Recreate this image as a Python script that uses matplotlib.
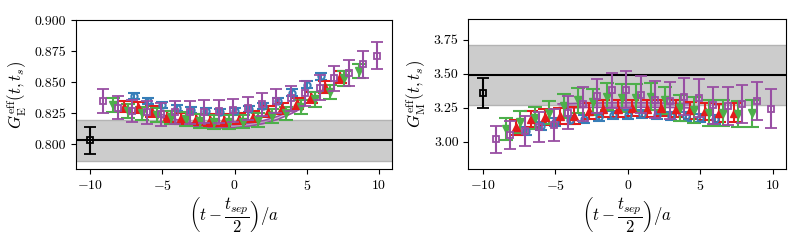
import numpy as np
import matplotlib.pyplot as plt

plt.rcParams['font.family'] = 'serif'
plt.rcParams['font.serif'] = ['cmr10']
plt.rcParams['mathtext.fontset'] = 'cm'
plt.rcParams['axes.formatter.use_mathtext'] = True
plt.rcParams['font.size'] = 10

# x positions (t - tsep/2, shifted for visibility)
x_blue = np.arange(14) - 7.0
x_red = np.arange(16) - 8.0 + 0.3
x_green = np.arange(18) - 9.0 + 0.6
x_purple = np.arange(20) - 10.0 + 0.9

# G_E effective
blue_E = [0.8387, 0.8349, 0.8315, 0.829, 0.8277, 0.8267, 0.8262, 0.8266, 0.8285, 0.831, 0.835, 0.8415, 0.848, 0.8548]
blue_E_err = [0.0025, 0.0025, 0.0025, 0.0025, 0.0025, 0.0025, 0.0025, 0.0025, 0.0025, 0.0025, 0.0025, 0.0026, 0.0027, 0.0028]
red_E = [0.8301, 0.8296, 0.826, 0.8226, 0.8207, 0.8199, 0.8194, 0.8194, 0.8205, 0.822, 0.826, 0.8288, 0.8328, 0.8376, 0.8462, 0.8543]
red_E_err = [0.0045, 0.0045, 0.0045, 0.0045, 0.0045, 0.0045, 0.0045, 0.0045, 0.0045, 0.0045, 0.0045, 0.0045, 0.0045, 0.0045, 0.0046, 0.0047]
green_E = [0.8315, 0.8269, 0.8247, 0.8234, 0.8215, 0.8202, 0.8188, 0.818, 0.818, 0.8182, 0.8194, 0.8226, 0.8247, 0.8301, 0.836, 0.8422, 0.853, 0.8589]
green_E_err = [0.0055, 0.0055, 0.0055, 0.0055, 0.0055, 0.0055, 0.0055, 0.0055, 0.0055, 0.0055, 0.0055, 0.0055, 0.0055, 0.0056, 0.0057, 0.0058, 0.006, 0.006]
purple_E = [0.8349, 0.8293, 0.8269, 0.8256, 0.824, 0.8256, 0.8256, 0.8263, 0.8266, 0.8274, 0.8288, 0.832, 0.8347, 0.8368, 0.8409, 0.8454, 0.853, 0.8575, 0.8643, 0.8712]
purple_E_err = [0.0095, 0.0092, 0.009, 0.009, 0.009, 0.009, 0.009, 0.009, 0.0092, 0.0093, 0.0094, 0.0095, 0.0095, 0.0097, 0.0098, 0.01, 0.0102, 0.0105, 0.0108, 0.011]

# G_M effective
blue_M = [3.08, 3.115, 3.145, 3.16, 3.17, 3.185, 3.198, 3.2, 3.203, 3.2, 3.188, 3.186, 3.174, 3.166]
blue_M_err = [0.03, 0.03, 0.03, 0.03, 0.03, 0.03, 0.03, 0.03, 0.03, 0.03, 0.03, 0.031, 0.032, 0.033]
red_M = [3.105, 3.168, 3.183, 3.19, 3.192, 3.226, 3.243, 3.243, 3.248, 3.243, 3.248, 3.243, 3.23, 3.223, 3.215, 3.215]
red_M_err = [0.055, 0.058, 0.06, 0.06, 0.06, 0.062, 0.062, 0.062, 0.062, 0.062, 0.062, 0.062, 0.062, 0.064, 0.066, 0.068]
green_M = [3.094, 3.145, 3.176, 3.213, 3.26, 3.304, 3.292, 3.33, 3.322, 3.322, 3.33, 3.304, 3.248, 3.235, 3.211, 3.211, 3.205, 3.208]
green_M_err = [0.078, 0.08, 0.082, 0.085, 0.088, 0.09, 0.095, 0.1, 0.1, 0.1, 0.1, 0.098, 0.095, 0.095, 0.095, 0.096, 0.098, 0.1]
purple_M = [3.018, 3.05, 3.079, 3.111, 3.124, 3.215, 3.278, 3.334, 3.379, 3.384, 3.347, 3.31, 3.302, 3.33, 3.322, 3.267, 3.26, 3.28, 3.3, 3.243]
purple_M_err = [0.1, 0.105, 0.108, 0.11, 0.115, 0.12, 0.122, 0.125, 0.13, 0.133, 0.133, 0.133, 0.135, 0.135, 0.137, 0.138, 0.14, 0.14, 0.14, 0.142]

# fit bands
fit_E_x = [-5, -4, -3, -2, -1, 0, 1, 2, 3, 4, 4.5]
fit_E = [0.8225, 0.8185, 0.816, 0.8147, 0.8142, 0.8145, 0.8157, 0.8178, 0.8212, 0.8262, 0.8292]
fit_E_hw = 0.0012
fit_M_x = [-4.8, -3, -1, 1, 3, 4.3]
fit_M = [3.262, 3.268, 3.27, 3.27, 3.268, 3.265]
fit_M_hw = 0.016

# extracted values at x = -10
final_E, final_E_err = 0.803, 0.0107
final_M, final_M_err = 3.36, 0.11
band_E, band_E_err = 0.803, 0.0167
band_M, band_M_err = 3.49, 0.22

c_blue = '#377eb8'
c_red = '#e41a1c'
c_green = '#4daf4a'
c_purple = '#984ea3'

fig = plt.figure(figsize=(8.05, 2.49), dpi=100)
ax1 = fig.add_axes([0.0944, 0.3213, 0.3922, 0.5984])
ax2 = fig.add_axes([0.5817, 0.3213, 0.3943, 0.6012])


def draw(ax, vals, fit_x, fit_y, fit_hw, final, final_err, band, band_err):
    b, be, r, re_, g, ge, p, pe = vals
    ax.axhspan(band - band_err, band + band_err, color='0.8', lw=0, zorder=0)
    ax.axhline(band - band_err, color='0.7', lw=1, zorder=0.5)
    ax.axhline(band + band_err, color='0.7', lw=1, zorder=0.5)
    ax.axhline(band, color='k', lw=1.5, zorder=1)

    fy = np.array(fit_y)
    ax.fill_between(fit_x, fy - fit_hw, fy + fit_hw, color=c_purple, alpha=0.3, lw=0, zorder=2)
    ax.plot(fit_x, fy - fit_hw, color=c_purple, lw=1.2, zorder=2)
    ax.plot(fit_x, fy + fit_hw, color=c_purple, lw=1.2, zorder=2)

    ax.errorbar(x_blue, b, yerr=be, fmt='o', color=c_blue, mfc='none', mew=1.5, ms=4.5,
                capsize=4, elinewidth=1.5, capthick=1.5, zorder=3)
    ax.errorbar(x_red, r, yerr=re_, fmt='^', color=c_red, ms=5.5,
                capsize=5, elinewidth=1.5, capthick=1.5, zorder=3)
    ax.errorbar(x_green, g, yerr=ge, fmt='v', color=c_green, ms=5.5,
                capsize=5, elinewidth=1.5, capthick=1.5, zorder=3)
    ax.errorbar(x_purple, p, yerr=pe, fmt='s', color=c_purple, mfc='none', mew=1.3, ms=5,
                capsize=4, elinewidth=1.5, capthick=1.5, zorder=4)
    ax.errorbar([-10], [final], yerr=[final_err], fmt='s', color='k', mfc='none', mew=1.3, ms=5,
                capsize=4, elinewidth=1.5, capthick=1.5, zorder=4)
    ax.set_xlabel(r'$\left(t-\dfrac{t_{sep}}{2}\right)/a$', fontsize=12, labelpad=2)
    ax.set_xticks([-10, -5, 0, 5, 10])


draw(ax1, (blue_E, blue_E_err, red_E, red_E_err, green_E, green_E_err, purple_E, purple_E_err),
     fit_E_x, fit_E, fit_E_hw, final_E, final_E_err, band_E, band_E_err)
draw(ax2, (blue_M, blue_M_err, red_M, red_M_err, green_M, green_M_err, purple_M, purple_M_err),
     fit_M_x, fit_M, fit_M_hw, final_M, final_M_err, band_M, band_M_err)

ax1.set_ylim(0.78, 0.90)
ax1.set_yticks([0.800, 0.825, 0.850, 0.875, 0.900])
ax1.set_yticklabels(['0.800', '0.825', '0.850', '0.875', '0.900'])
ax1.set_ylabel(r'$G^{\rm eff}_{\rm E}(t,t_s)$', fontsize=12)
ax2.set_ylim(2.80, 3.90)
ax2.set_yticks([3.00, 3.25, 3.50, 3.75])
ax2.set_yticklabels(['3.00', '3.25', '3.50', '3.75'])
ax2.set_ylabel(r'$G^{\rm eff}_{\rm M}(t,t_s)$', fontsize=12)

fig.savefig('out.png', dpi=100)
